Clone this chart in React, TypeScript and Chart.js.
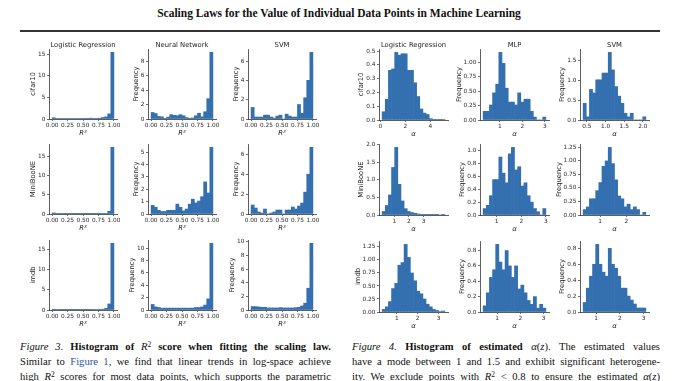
import React, { useEffect, useRef } from 'react';
import { Chart, registerables } from 'chart.js';
Chart.register(...registerables);

// ---------- data ----------
const r2Models = ['Logistic Regression', 'Neural Network', 'SVM'];
const alphaModels = ['Logistic Regression', 'MLP', 'SVM'];
const datasetNames = ['cifar10', 'MiniBooNE', 'imdb'];

// R^2 histograms: 20 bins on [0, 1]
const r2BinStart = 0;
const r2BinWidth = 0.05;
const r2XTicks = [0, 0.25, 0.5, 0.75, 1.0];

const r2_lr_cifar10 = [0.3, 0.1, 0.1, 0.1, 0.1, 0.1, 0.1, 0.1, 0.1, 0.1, 0.15, 0.15, 0.2, 0.1, 0.15, 0.2, 0.35, 0.5, 1.2, 15.5];
const r2_nn_cifar10 = [0.9, 0.75, 0.35, 0.3, 0.05, 0.25, 0.6, 0.5, 0.45, 0.6, 0.45, 0.2, 0.1, 0.15, 0.45, 0.8, 0.3, 1.0, 2.8, 9.2];
const r2_svm_cifar10 = [1.2, 0.2, 0.2, 0.2, 0.4, 0.4, 0.2, 0.1, 0.3, 0.4, 0.0, 0.5, 0.3, 0.2, 0.2, 1.5, 0.6, 2.2, 4.0, 6.9];
const r2_lr_miniboone = [0.3, 0.1, 0.05, 0.1, 0.05, 0.1, 0.05, 0.05, 0.05, 0.05, 0.05, 0.05, 0.05, 0.05, 0.05, 0.05, 0.1, 0.1, 0.7, 17.5];
const r2_nn_miniboone = [0.7, 0.55, 0.3, 0.2, 0.2, 0.3, 0.3, 0.3, 0.8, 0.55, 0.25, 0.4, 0.8, 1.2, 0.9, 1.05, 1.4, 2.6, 1.7, 5.4];
const r2_svm_miniboone = [0.9, 0.6, 0.2, 0.1, 0.5, 0.0, 0.1, 0.2, 0.4, 0.4, 0.0, 0.4, 0.4, 0.7, 0.5, 0.8, 1.1, 2.2, 4.0, 6.7];
const r2_lr_imdb = [0.2, 0.1, 0.05, 0.05, 0.05, 0.05, 0.05, 0.05, 0.05, 0.05, 0.05, 0.05, 0.05, 0.1, 0.1, 0.1, 0.2, 0.4, 1.5, 16.5];
const r2_nn_imdb = [0.9, 0.5, 0.4, 0.3, 0.3, 0.3, 0.3, 0.3, 0.3, 0.3, 0.3, 0.3, 0.3, 0.3, 0.4, 0.4, 0.5, 0.8, 1.8, 10.8];
const r2_svm_imdb = [0.5, 0.5, 0.45, 0.4, 0.4, 0.3, 0.3, 0.3, 0.3, 0.35, 0.3, 0.3, 0.3, 0.3, 0.35, 0.4, 0.6, 1.0, 3.2, 9.8];

// alpha histograms: 20 bins each
const a_lr_cifar10 = [0.06, 0.15, 0.36, 0.37, 0.49, 0.47, 0.48, 0.48, 0.36, 0.36, 0.27, 0.17, 0.08, 0.05, 0.04, 0.01, 0.005, 0.003, 0.005, 0.003];
const a_mlp_cifar10 = [0.15, 0.15, 0.26, 0.47, 0.62, 1.17, 0.98, 0.55, 0.31, 0.31, 0.26, 0.47, 0.31, 0.36, 0.36, 0.15, 0.05, 0, 0, 0.05];
const a_svm_cifar10 = [0.42, 0.08, 0.77, 0.68, 1.01, 1.01, 1.18, 1.18, 1.7, 1.26, 0.84, 0.6, 0.42, 0.17, 0.08, 0.17, 0, 0, 0, 0.08];
const a_lr_miniboone = [0.1, 0.27, 0.57, 1.35, 1.92, 0.87, 0.4, 0.18, 0.1, 0.07, 0.05, 0.03, 0.02, 0.01, 0.005, 0.003, 0.002, 0.001, 0, 0.002];
const a_mlp_miniboone = [0.1, 0.15, 0.3, 0.55, 0.55, 0.9, 0.65, 0.5, 0.95, 1.05, 0.7, 0.75, 0.45, 0.5, 0.3, 0.2, 0.1, 0.05, 0, 0.1];
const a_svm_miniboone = [0.1, 0.15, 0.3, 0.3, 0.45, 0.6, 0.9, 1.0, 1.25, 0.95, 0.65, 0.35, 0.3, 0.15, 0.2, 0.1, 0.15, 0.1, 0, 0.05];
const a_lr_imdb = [0.05, 0.1, 0.2, 0.45, 0.55, 0.9, 0.95, 1.3, 1.05, 0.75, 0.6, 0.4, 0.35, 0.25, 0.15, 0.1, 0.05, 0.03, 0.01, 0.02];
const a_mlp_imdb = [0.08, 0.25, 0.45, 0.55, 0.88, 0.65, 0.55, 0.8, 0.6, 0.45, 0.6, 0.3, 0.35, 0.25, 0.15, 0.1, 0.2, 0.05, 0.1, 0.05];
const a_svm_imdb = [0.12, 0.3, 0.45, 0.6, 0.85, 0.6, 0.5, 0.45, 0.8, 0.6, 0.55, 0.45, 0.3, 0.3, 0.2, 0.15, 0.1, 0.05, 0.05, 0.05];

// bin starts / widths for the alpha panels (row-major: cifar10, MiniBooNE, imdb x LR, MLP, SVM)
const aBinStarts = [0.15, 0.25, 0.40, 0.17, 0.45, 0.35, 0.3, 0.4, 0.45];
const aBinWidths = [0.25, 0.14, 0.084, 0.214, 0.1275, 0.12, 0.15, 0.135, 0.1325];
const aXTicks = [[0, 2, 4], [1, 2, 3], [0.5, 1.0, 1.5, 2.0], [1, 2, 3], [1, 2, 3], [1, 2], [1, 2, 3], [1, 2, 3], [1, 2, 3]];
const aXDec = [0, 0, 1, 0, 0, 0, 0, 0, 0];

// y ticks
const r2YTicks = [[0, 5, 10, 15], [0, 2, 4, 6, 8], [0, 2, 4, 6], [0, 5, 10, 15], [0, 1, 2, 3, 4, 5], [0, 2, 4, 6], [0, 5, 10, 15], [0, 2, 4, 6, 8, 10], [0, 2, 4, 6, 8, 10]];
const aYTicks = [[0, 0.1, 0.2, 0.3, 0.4, 0.5], [0, 0.25, 0.5, 0.75, 1.0], [0, 0.5, 1.0, 1.5], [0, 0.5, 1.0, 1.5, 2.0], [0, 0.2, 0.4, 0.6, 0.8, 1.0], [0, 0.25, 0.5, 0.75, 1.0, 1.25], [0, 0.25, 0.5, 0.75, 1.0, 1.25], [0, 0.2, 0.4, 0.6, 0.8], [0, 0.2, 0.4, 0.6, 0.8]];
const aYDec = [1, 2, 1, 1, 1, 2, 2, 1, 1];

const r2Values = [r2_lr_cifar10, r2_nn_cifar10, r2_svm_cifar10, r2_lr_miniboone, r2_nn_miniboone, r2_svm_miniboone, r2_lr_imdb, r2_nn_imdb, r2_svm_imdb];
const aValues = [a_lr_cifar10, a_mlp_cifar10, a_svm_cifar10, a_lr_miniboone, a_mlp_miniboone, a_svm_miniboone, a_lr_imdb, a_mlp_imdb, a_svm_imdb];

// ---------- style / layout ----------
const FONT = '"DejaVu Sans", sans-serif';
const SERIF = '"Liberation Serif", "Times New Roman", serif';
const BLUE = '#3470b0';
const AXC = '#333';
const TXT = '#222';
const TICK_SIZE = 5.8;
const LABEL_SIZE = 6.8;

const leftX = [49, 148, 248];
const leftW = 68;
const leftY = [49, 144, 240];
const leftH = 70;
const rightX = [379, 480, 580];
const rightW = 69;
const rightY = [49, 144, 241];
const rightH = 71;

const PADL = 36, PADT = 10, PADR = 10, PADB = 21;

type Spec = {
  values: number[];
  binStart: number;
  binWidth: number;
  xTicks: number[];
  xDec: number;
  yTicks: number[];
  yDec: number;
  title?: string;
  yLabel: string;
  xLabel: string;
};

function makeTextPlugin(p: Spec) {
  return {
    id: 'panelText',
    afterDraw(chart: any) {
      const { ctx, chartArea: a } = chart;
      ctx.save();
      ctx.fillStyle = TXT;
      const cx = (a.left + a.right) / 2;
      if (p.title) {
        ctx.font = `${LABEL_SIZE}px ${FONT}`;
        ctx.textAlign = 'center';
        ctx.textBaseline = 'alphabetic';
        ctx.fillText(p.title, cx, a.top - 2.5);
      }
      ctx.font = `italic ${LABEL_SIZE}px ${FONT}`;
      ctx.textAlign = 'center';
      ctx.textBaseline = 'top';
      ctx.fillText(p.xLabel, cx, a.bottom + 10.5);
      ctx.font = `${TICK_SIZE}px ${FONT}`;
      const w = Math.max(...p.yTicks.map((t) => ctx.measureText(t.toFixed(p.yDec)).width));
      const x = a.left - 2 - 1.5 - w - 1.2;
      ctx.translate(x, (a.top + a.bottom) / 2);
      ctx.rotate(-Math.PI / 2);
      ctx.font = `${LABEL_SIZE}px ${FONT}`;
      ctx.textAlign = 'center';
      ctx.textBaseline = 'bottom';
      ctx.fillText(p.yLabel, 0, 0);
      ctx.restore();
    },
  };
}

function Panel({ p, left, top, w, h }: { p: Spec; left: number; top: number; w: number; h: number }) {
  const ref = useRef<HTMLCanvasElement | null>(null);
  useEffect(() => {
    const n = p.values.length;
    const e0 = p.binStart;
    const e1 = p.binStart + p.binWidth * n;
    const span = e1 - e0;
    const ymax = Math.max(...p.values) * 1.05;
    const tickFont = { size: TICK_SIZE, family: FONT };
    const grid = {
      display: true,
      drawOnChartArea: false,
      drawTicks: true,
      tickLength: 2,
      tickWidth: 0.7,
      tickColor: AXC,
      offset: false,
    };
    const border = { display: true, color: AXC, width: 0.8 };
    const chart = new Chart(ref.current as HTMLCanvasElement, {
      type: 'bar',
      data: {
        datasets: [
          {
            data: p.values.map((v, i) => ({ x: p.binStart + p.binWidth * (i + 0.5), y: v })),
            backgroundColor: BLUE,
            borderWidth: 0,
            barPercentage: 1,
            categoryPercentage: 1,
          } as any,
        ],
      },
      options: {
        animation: false,
        responsive: false,
        devicePixelRatio: 1,
        events: [],
        layout: { padding: { top: PADT, right: PADR, left: 0, bottom: 0 } },
        plugins: { legend: { display: false }, tooltip: { enabled: false } },
        scales: {
          x: {
            type: 'linear',
            min: e0 - 0.05 * span,
            max: e1 + 0.05 * span,
            offset: false,
            afterBuildTicks: (s: any) => {
              s.ticks = p.xTicks.map((v) => ({ value: v }));
            },
            afterFit: (s: any) => {
              s.height = PADB;
            },
            ticks: {
              autoSkip: false,
              maxRotation: 0,
              minRotation: 0,
              padding: 1,
              font: tickFont,
              color: '#2a2a2a',
              includeBounds: false,
              callback: (v: any) => Number(v).toFixed(p.xDec),
            },
            grid,
            border,
          },
          y: {
            type: 'linear',
            min: 0,
            max: ymax,
            afterBuildTicks: (s: any) => {
              s.ticks = p.yTicks.map((v) => ({ value: v }));
            },
            afterFit: (s: any) => {
              s.width = PADL;
            },
            ticks: {
              padding: 1.5,
              font: tickFont,
              color: '#2a2a2a',
              includeBounds: false,
              callback: (v: any) => Number(v).toFixed(p.yDec),
            },
            grid,
            border,
          },
        },
      } as any,
      plugins: [makeTextPlugin(p)],
    });
    return () => chart.destroy();
  }, []);
  const cw = w + PADL + PADR;
  const ch = h + PADT + PADB;
  return (
    <canvas
      ref={ref}
      width={cw}
      height={ch}
      style={{ position: 'absolute', left: left - PADL, top: top - PADT, width: cw, height: ch }}
    />
  );
}

function Line({ left, top, width, children }: any) {
  return (
    <div
      style={{
        position: 'absolute',
        left,
        top,
        width,
        height: 15,
        lineHeight: '15px',
        fontFamily: SERIF,
        fontSize: 10.6,
        color: '#111',
        textAlign: 'justify',
        textAlignLast: 'justify',
        overflow: 'hidden',
      }}
    >
      {children}
    </div>
  );
}

const Sup = ({ children }: any) => (
  <sup style={{ fontSize: '0.7em', lineHeight: 0, verticalAlign: '0.45em' }}>{children}</sup>
);

export default function App() {
  const panels: any[] = [];
  for (let r = 0; r < 3; r++) {
    for (let c = 0; c < 3; c++) {
      const k = r * 3 + c;
      panels.push(
        <Panel
          key={'r2' + k}
          left={leftX[c]}
          top={leftY[r]}
          w={leftW}
          h={leftH}
          p={{
            values: r2Values[k],
            binStart: r2BinStart,
            binWidth: r2BinWidth,
            xTicks: r2XTicks,
            xDec: 2,
            yTicks: r2YTicks[k],
            yDec: 0,
            title: r === 0 ? r2Models[c] : undefined,
            yLabel: c === 0 ? datasetNames[r] : 'Frequency',
            xLabel: 'R²',
          }}
        />
      );
      panels.push(
        <Panel
          key={'a' + k}
          left={rightX[c]}
          top={rightY[r]}
          w={rightW}
          h={rightH}
          p={{
            values: aValues[k],
            binStart: aBinStarts[k],
            binWidth: aBinWidths[k],
            xTicks: aXTicks[k],
            xDec: aXDec[k],
            yTicks: aYTicks[k],
            yDec: aYDec[k],
            title: r === 0 ? alphaModels[c] : undefined,
            yLabel: c === 0 ? datasetNames[r] : 'Frequency',
            xLabel: 'α',
          }}
        />
      );
    }
  }
  return (
    <div style={{ position: 'fixed', left: 0, top: 0, width: 678, height: 381, background: '#fff', overflow: 'hidden' }}>
      <div
        style={{
          position: 'absolute',
          left: 0,
          top: 5,
          width: 678,
          textAlign: 'center',
          fontFamily: SERIF,
          fontWeight: 'bold',
          fontSize: 11.5,
          lineHeight: '16px',
          color: '#111',
        }}
      >
        Scaling Laws for the Value of Individual Data Points in Machine Learning
      </div>
      <div style={{ position: 'absolute', left: 20, top: 30, width: 640, height: 2, background: '#333' }} />
      {panels}
      <Line left={20} top={339} width={311}>
        <i>Figure 3.</i> <b>Histogram of </b><i>R</i><Sup>2</Sup><b> score when fitting the scaling law.</b>
      </Line>
      <Line left={20} top={354} width={311}>
        Similar to <span style={{ color: '#2a52a6' }}>Figure 1</span>, we find that linear trends in log-space achieve
      </Line>
      <Line left={20} top={369} width={311}>
        high <i>R</i><Sup>2</Sup> scores for most data points, which supports the parametric
      </Line>
      <Line left={352} top={339} width={308}>
        <i>Figure 4.</i> <b>Histogram of estimated</b> <i>α</i>(<i>z</i>). The estimated values
      </Line>
      <Line left={352} top={354} width={308}>
        have a mode between 1 and 1.5 and exhibit significant heterogene-
      </Line>
      <Line left={352} top={369} width={308}>
        ity. We exclude points with <i>R</i><Sup>2</Sup> &lt; 0.8 to ensure the estimated <i>α</i>(<i>z</i>)
      </Line>
    </div>
  );
}
